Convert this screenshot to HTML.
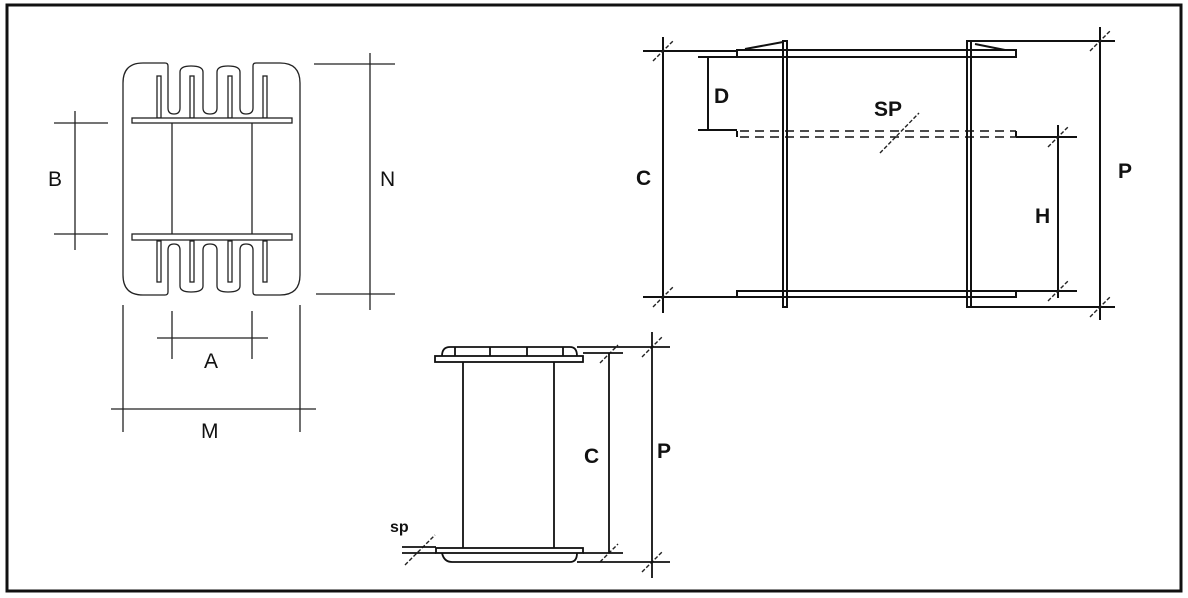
<!DOCTYPE html>
<html><head><style>
html,body{margin:0;padding:0;background:#fff;}
svg{display:block;}
text{font-family:"Liberation Sans",sans-serif;fill:#111;}
.b{font-weight:bold;}
</style></head><body>
<svg width="1188" height="598" viewBox="0 0 1188 598" xmlns="http://www.w3.org/2000/svg">
<rect x="7" y="5" width="1174" height="586" fill="none" stroke="#111" stroke-width="3"/>
<g stroke="#222" stroke-width="1.3" fill="none">
<path d="M143,63 H165 Q168,63 168,66 V108 Q168,114 174,114 Q180,114 180,108 V72 Q180,66 191,66 Q203,66 203,72 V108 Q203,114 210,114 Q217,114 217,108 V72 Q217,66 228,66 Q240,66 240,72 V108 Q240,114 246,114 Q253,114 253,108 V66 Q253,63 256,63 H280 Q300,63 300,83 V275 Q300,295 280,295 H256 Q253,295 253,292 V250 Q253,244 246,244 Q240,244 240,250 V286 Q240,292 228,292 Q217,292 217,286 V250 Q217,244 210,244 Q203,244 203,250 V286 Q203,292 191,292 Q180,292 180,286 V250 Q180,244 174,244 Q168,244 168,250 V292 Q168,295 165,295 H143 Q123,295 123,275 V83 Q123,63 143,63 Z"/>
<rect x="157" y="76" width="4" height="42"/><rect x="190" y="76" width="4" height="42"/><rect x="228" y="76" width="4" height="42"/><rect x="263" y="76" width="4" height="42"/>
<rect x="157" y="241" width="4" height="41"/><rect x="190" y="241" width="4" height="41"/><rect x="228" y="241" width="4" height="41"/><rect x="263" y="241" width="4" height="41"/>
<rect x="132" y="118" width="160" height="5" fill="#fff"/>
<rect x="132" y="234" width="160" height="6" fill="#fff"/>
<line x1="172" y1="123" x2="172" y2="234"/><line x1="252" y1="123" x2="252" y2="234"/>
<line x1="75" y1="111" x2="75" y2="250"/><line x1="54" y1="123" x2="108" y2="123"/><line x1="54" y1="234" x2="108" y2="234"/>
<line x1="370" y1="53" x2="370" y2="310"/><line x1="314" y1="64" x2="395" y2="64"/><line x1="316" y1="294" x2="395" y2="294"/>
<line x1="157" y1="338" x2="268" y2="338"/><line x1="172" y1="311" x2="172" y2="359"/><line x1="252" y1="311" x2="252" y2="359"/>
<line x1="123" y1="305" x2="123" y2="432"/><line x1="300" y1="305" x2="300" y2="432"/><line x1="111" y1="409" x2="316" y2="409"/>
</g>
<text x="48" y="186" font-size="21">B</text>
<text x="380" y="186" font-size="21">N</text>
<text x="204" y="368" font-size="21">A</text>
<text x="201" y="438" font-size="21">M</text>

<g stroke="#111" stroke-width="2" fill="none">
<line x1="663" y1="37" x2="663" y2="313"/>
<line x1="643" y1="51" x2="737" y2="51"/>
<line x1="643" y1="297" x2="737" y2="297"/>
<rect x="737" y="50" width="279" height="7"/>
<rect x="737" y="291" width="279" height="6"/>
<line x1="698" y1="57" x2="737" y2="57"/>
<line x1="708" y1="57" x2="708" y2="130"/>
<line x1="698" y1="130" x2="737" y2="130"/>
<rect x="783" y="41" width="4" height="266"/>
<rect x="967" y="41" width="4" height="266"/>
<line x1="971" y1="41" x2="1115" y2="41"/>
<line x1="971" y1="307" x2="1115" y2="307"/>
<path d="M745,49 L783,42"/>
<path d="M975,44 L1005,50"/>
<line x1="1016" y1="137" x2="1077" y2="137"/>
<line x1="1016" y1="291" x2="1077" y2="291"/>
<line x1="1058" y1="125" x2="1058" y2="298"/>
<line x1="1100" y1="27" x2="1100" y2="320"/>
<path d="M737,131 V137"/><path d="M1016,131 V137"/>
</g>
<g stroke="#111" stroke-width="1.6" stroke-dasharray="9,6">
<line x1="740" y1="131" x2="1016" y2="131"/><line x1="740" y1="137" x2="1016" y2="137"/>
</g>
<g stroke="#222" stroke-width="1.4" stroke-dasharray="4,2">
<line x1="653" y1="61" x2="673" y2="41"/><line x1="653" y1="307" x2="673" y2="287"/>
<line x1="1090" y1="51" x2="1110" y2="31"/><line x1="1090" y1="317" x2="1110" y2="297"/>
<line x1="1048" y1="147" x2="1068" y2="127"/><line x1="1048" y1="301" x2="1068" y2="281"/>
<line x1="880" y1="153" x2="919" y2="113"/>
<line x1="642" y1="357" x2="662" y2="337"/><line x1="642" y1="572" x2="662" y2="552"/>
<line x1="600" y1="363" x2="618" y2="345"/><line x1="600" y1="562" x2="618" y2="544"/>
<line x1="405" y1="565" x2="435" y2="535"/>
</g>
<text x="714" y="103" font-size="21" class="b">D</text>
<text x="874" y="116" font-size="21" class="b">SP</text>
<text x="636" y="185" font-size="21" class="b">C</text>
<text x="1035" y="223" font-size="21" class="b">H</text>
<text x="1118" y="178" font-size="21" class="b">P</text>

<g stroke="#111" stroke-width="1.8" fill="none">
<rect x="435" y="356" width="148" height="6"/>
<path d="M442,356 Q442,347 450,347 H570 Q577,347 577,356"/>
<line x1="455" y1="347" x2="455" y2="356"/><line x1="490" y1="347" x2="490" y2="356"/><line x1="527" y1="347" x2="527" y2="356"/><line x1="563" y1="347" x2="563" y2="356"/>
<line x1="577" y1="347" x2="670" y2="347"/>
<line x1="583" y1="353" x2="623" y2="353"/>
<line x1="463" y1="362" x2="463" y2="548"/><line x1="554" y1="362" x2="554" y2="548"/>
<rect x="436" y="548" width="147" height="5"/>
<path d="M442,553 Q444,562 452,562 H570 Q577,562 577,553"/>
<line x1="577" y1="562" x2="670" y2="562"/>
<line x1="583" y1="553" x2="623" y2="553"/>
<line x1="402" y1="547" x2="436" y2="547"/><line x1="402" y1="553" x2="436" y2="553"/>
<line x1="609" y1="353" x2="609" y2="553"/>
<line x1="652" y1="332" x2="652" y2="578"/>
</g>
<text x="584" y="463" font-size="21" class="b">C</text>
<text x="657" y="458" font-size="21" class="b">P</text>
<text x="390" y="532" font-size="16" class="b">sp</text>
</svg>
</body></html>
